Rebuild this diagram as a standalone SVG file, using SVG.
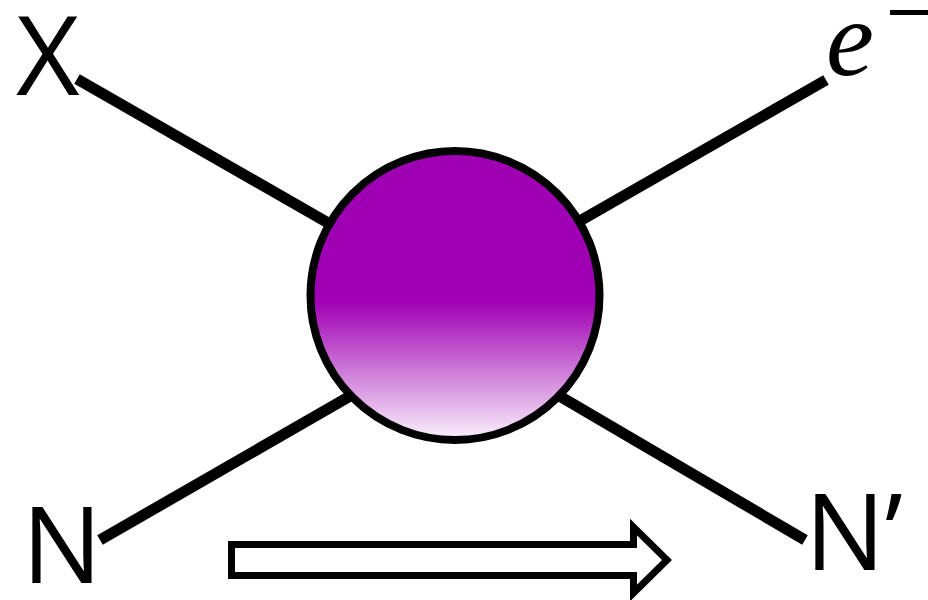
<svg xmlns="http://www.w3.org/2000/svg" width="928" height="600" viewBox="0 0 928 600">
  <defs>
    <linearGradient id="blob" x1="0" y1="0" x2="0" y2="1">
      <stop offset="0" stop-color="#A000B4"/>
      <stop offset="0.52" stop-color="#A000B4"/>
      <stop offset="1" stop-color="#FBF2FC"/>
    </linearGradient>
    <style>
      .leg { stroke: #000; stroke-width: 11; fill: none; }
      .lbl { font-family: "Open Sans", "Noto Sans", "Liberation Sans", sans-serif; fill: #000; }
    </style>
  </defs>
  <rect width="928" height="600" fill="#fff"/>
  <g id="connectors">
    <line class="leg" x1="77" y1="79" x2="330" y2="224"/>
    <line class="leg" x1="826" y1="80" x2="578" y2="222"/>
    <line class="leg" x1="100" y1="540" x2="352" y2="395"/>
    <line class="leg" x1="805" y1="540" x2="556" y2="394"/>
  </g>
  <g id="vertex">
    <circle cx="455" cy="295.5" r="144.5" fill="url(#blob)" stroke="#000" stroke-width="8"/>
  </g>
  <g id="X"><text class="lbl" x="16" y="95" font-size="110">X</text></g>
  <g id="N"><text class="lbl" x="22" y="583" font-size="106">N</text></g>
  <g id="Nprime"><text class="lbl" x="805" y="570" font-size="106">N’</text></g>
  <g id="electron">
    <text x="826" y="75" font-family="Liberation Serif, DejaVu Serif, serif" font-style="italic" font-size="108" fill="#000">e</text>
    <rect x="890" y="10" width="40" height="5" fill="#000"/>
  </g>
  <g id="arrow">
    <path d="M231.5,544.5 H633.5 V527 L667,560 L633.5,593 V575.5 H231.5 Z" fill="#fff" stroke="#000" stroke-width="7" stroke-miterlimit="10"/>
  </g>
</svg>
